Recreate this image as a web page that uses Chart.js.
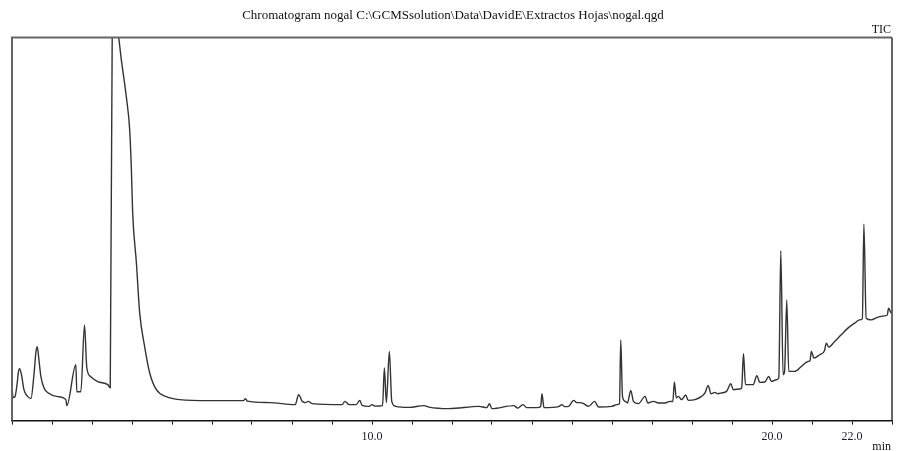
<!DOCTYPE html>
<html>
<head>
<meta charset="utf-8">
<script src="https://cdn.jsdelivr.net/npm/chart.js@4"></script>
<style>
  html, body { margin: 0; padding: 0; background: #fff; }
  #wrap { width: 897px; height: 451px; }
</style>
</head>
<body>
<div id="wrap"><canvas id="tic"></canvas></div>
<script>
// Tiempo de retención (min) y señal TIC (% de la escala)
const retentionTimes = [
  1.000, 1.025, 1.075, 1.125, 1.162, 1.192, 1.237, 1.299, 1.374, 1.474,
  1.549, 1.599, 1.631, 1.673, 1.723, 1.798, 1.898, 2.147,
  2.347, 2.372, 2.596, 2.621, 2.721, 2.813, 2.870, 2.970, 3.145, 3.394,
  3.456, 3.506, 3.569, 3.643, 3.736, 3.860, 3.943, 3.985, 4.017, 4.110,
  4.192, 4.317, 4.441, 4.609, 4.858, 5.190, 5.938, 6.786, 6.835, 6.885,
  7.434, 8.082, 8.165, 8.257, 8.332, 8.406, 8.506, 9.254, 9.322, 9.429,
  9.603, 9.696, 9.753, 9.928, 10.002, 10.077, 10.264, 10.309, 10.359, 10.434,
  10.494, 10.593, 10.925, 11.299, 11.424, 11.923, 12.671, 12.870, 12.938, 12.995,
  13.544, 13.643, 13.776, 13.868, 14.117, 14.217, 14.249, 14.299, 14.666, 14.748,
  14.815, 14.915, 15.040, 15.122, 15.207, 15.289, 15.414, 15.564, 15.663, 15.995,
  16.120, 16.187, 16.219, 16.262, 16.329, 16.387, 16.469, 16.536, 16.661, 16.828,
  16.893, 17.035, 17.160, 17.327, 17.451, 17.521, 17.559, 17.608, 17.658, 17.741,
  17.840, 17.908, 18.075, 18.239, 18.324, 18.406, 18.474, 18.573, 18.638, 18.738,
  18.863, 18.972, 19.030, 19.197, 19.242, 19.287, 19.337, 19.529, 19.621, 19.696,
  19.820, 19.920, 19.985, 20.110, 20.170, 20.220, 20.277, 20.314, 20.369, 20.419,
  20.569, 20.733, 20.900, 20.950, 20.983, 21.050, 21.192, 21.312, 21.357, 21.417,
  21.566, 21.731, 21.898, 22.065, 22.190, 22.259, 22.297, 22.354, 22.479, 22.646,
  22.813, 22.883, 22.913, 22.978
];
const ticSignal = [
  8.85, 5.99, 6.25, 9.38, 12.76, 13.54, 11.98, 8.07, 6.51, 5.73,
  11.98, 17.97, 19.27, 15.89, 11.46, 8.59, 7.29, 6.25,
  5.47, 3.91, 14.58, 7.55, 7.55, 25.00, 13.80, 11.46, 10.16, 9.38,
  8.59, 101.8, 104.4, 101.8, 94.01, 84.38, 75.78, 65.36, 54.17, 41.15,
  28.13, 19.27, 12.50, 8.07, 6.25, 5.47, 5.21, 5.21, 5.73, 5.08,
  4.69, 4.17, 6.77, 5.03, 4.69, 5.03, 4.43, 4.17, 5.03, 4.17,
  4.17, 5.29, 3.98, 3.72, 4.17, 3.78, 3.91, 13.72, 4.69, 18.05,
  5.03, 3.72, 3.46, 3.91, 3.52, 3.13, 3.72, 3.39, 4.43, 3.13,
  3.91, 3.26, 4.17, 3.39, 3.39, 3.65, 7.03, 3.39, 3.65, 4.17,
  3.65, 3.72, 5.29, 4.69, 4.69, 4.43, 3.72, 5.03, 3.57, 3.72,
  4.17, 4.43, 21.09, 6.33, 5.03, 4.61, 7.89, 5.03, 4.43, 6.33,
  4.61, 5.03, 4.61, 4.61, 5.03, 4.95, 10.08, 5.91, 6.33, 5.47,
  6.69, 5.29, 5.47, 6.33, 7.21, 9.19, 7.03, 7.37, 7.03, 7.21,
  7.63, 9.64, 8.07, 8.26, 8.59, 17.45, 9.38, 9.38, 11.72, 9.97,
  10.08, 11.54, 10.23, 10.68, 11.12, 44.35, 11.98, 12.76, 31.51, 12.84,
  12.84, 14.14, 15.44, 15.63, 18.05, 16.33, 17.19, 18.23, 20.23, 19.19,
  20.65, 22.40, 24.14, 25.44, 26.30, 26.56, 51.30, 26.74, 26.30, 27.00,
  27.34, 27.60, 29.35, 28.05
];
const labeledTicks = [10, 20, 22];

const titleText = 'Chromatogram nogal C:\\GCMSsolution\\Data\\DavidE\\Extractos Hojas\\nogal.qgd';

// marco del área y textos TIC / min
const framePlugin = {
  id: 'frame',
  afterDraw(chart) {
    const { ctx, chartArea: a } = chart;
    ctx.save();
    ctx.lineWidth = 2;
    ctx.strokeStyle = '#666';
    ctx.beginPath();
    ctx.moveTo(a.left, a.bottom);
    ctx.lineTo(a.left, a.top);
    ctx.lineTo(a.right, a.top);
    ctx.stroke();
    ctx.strokeStyle = '#333';
    ctx.lineWidth = 1.5;
    ctx.beginPath();
    ctx.moveTo(a.right, a.top);
    ctx.lineTo(a.right, a.bottom);
    ctx.stroke();
    ctx.fillStyle = '#111';
    ctx.font = '12px "Liberation Serif", serif';
    ctx.textAlign = 'right';
    ctx.textBaseline = 'bottom';
    ctx.fillText('TIC', a.right - 1, a.top - 2);
    ctx.textBaseline = 'alphabetic';
    ctx.fillText('min', a.right - 1, 450);
    ctx.restore();
  }
};

new Chart(document.getElementById('tic'), {
  type: 'line',
  data: {
    datasets: [{
      label: 'TIC',
      data: retentionTimes.map((t, i) => ({ x: t, y: ticSignal[i] })),
      borderColor: '#333',
      borderWidth: 1.4,
      pointRadius: 0,
      cubicInterpolationMode: 'monotone',
      fill: false
    }]
  },
  options: {
    responsive: true,
    maintainAspectRatio: false,
    animation: false,
    layout: { padding: { left: 12, right: 3, top: 0, bottom: 2 } },
    plugins: {
      legend: { display: false },
      tooltip: { enabled: false },
      title: {
        display: true,
        text: titleText,
        color: '#111',
        font: { family: '"Liberation Serif", serif', size: 13, weight: 'normal' },
        padding: { top: 8, bottom: 14 }
      }
    },
    scales: {
      x: {
        type: 'linear',
        min: 1,
        max: 23,
        border: { color: '#111', width: 1.5 },
        grid: { drawOnChartArea: false, drawTicks: true, tickLength: 4, color: '#111' },
        ticks: {
          stepSize: 1,
          autoSkip: false,
          maxRotation: 0,
          padding: 5,
          color: '#1a1a2a',
          font: { family: '"Liberation Serif", serif', size: 12 },
          callback: v => labeledTicks.includes(v) ? v.toFixed(1) : ''
        }
      },
      y: {
        display: false,
        min: 0,
        max: 100
      }
    }
  },
  plugins: [framePlugin]
});
</script>
</body>
</html>
